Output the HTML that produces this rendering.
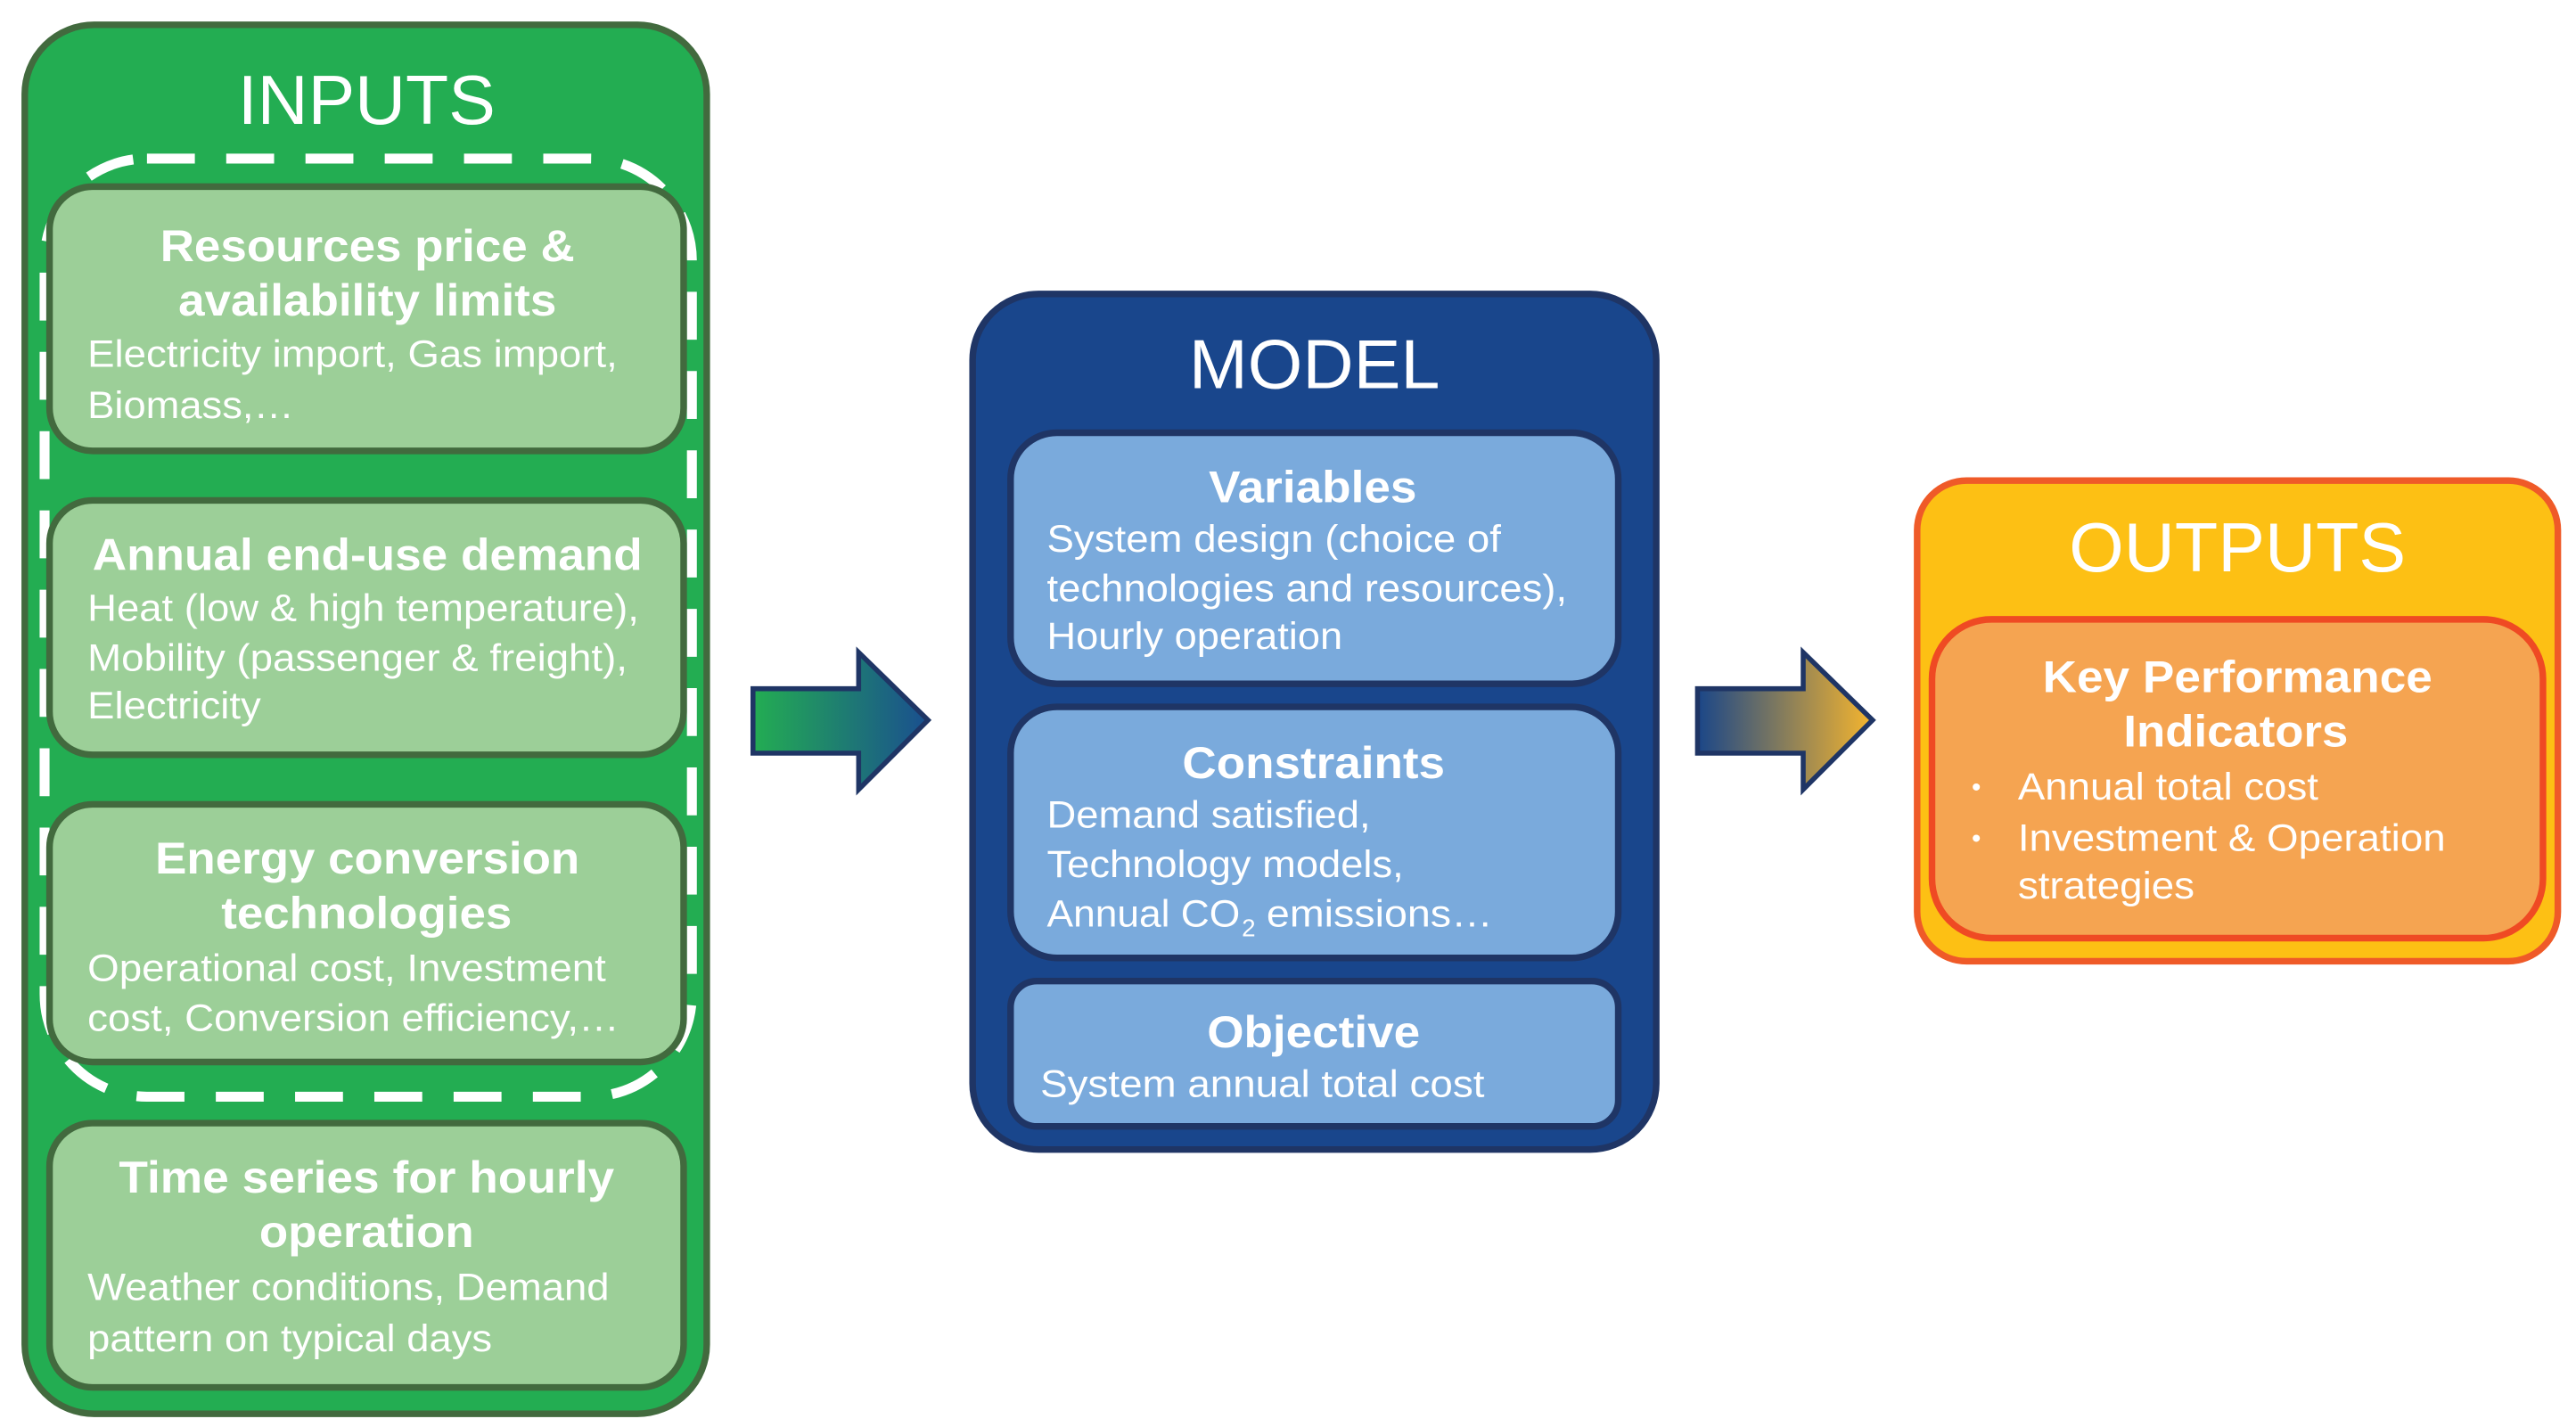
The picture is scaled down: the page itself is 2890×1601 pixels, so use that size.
<!DOCTYPE html>
<html><head><meta charset="utf-8"><style>html,body{margin:0;padding:0;background:#fff}svg{display:block}</style></head>
<body>
<svg width="2890" height="1601" viewBox="0 0 1560 864" preserveAspectRatio="none" xmlns="http://www.w3.org/2000/svg" font-family="Liberation Sans, Arial, sans-serif">
<defs>
<linearGradient id="g1" x1="0" x2="1" y1="0" y2="0"><stop offset="0" stop-color="#23ad52"/><stop offset="1" stop-color="#1a4f8f"/></linearGradient>
<linearGradient id="g2" x1="0" x2="1" y1="0" y2="0"><stop offset="0" stop-color="#1a4688"/><stop offset="1" stop-color="#f5b52e"/></linearGradient>
</defs>
<!-- INPUTS -->
<rect x="15" y="15" width="413" height="841" rx="42" fill="#23ad52" stroke="#426a3e" stroke-width="4"/>
<text x="144" y="75" font-size="42" fill="#fff" textLength="156" lengthAdjust="spacingAndGlyphs">INPUTS</text>
<rect x="27" y="96" width="392" height="568" rx="62" fill="none" stroke="#fff" stroke-width="6" stroke-dasharray="29,19"/>
<g fill="#9ccf98" stroke="#426a3e" stroke-width="4">
<rect x="30" y="113" width="384" height="160" rx="26"/>
<rect x="30" y="303" width="384" height="154" rx="26"/>
<rect x="30" y="487" width="384" height="156" rx="26"/>
<rect x="30" y="680" width="384" height="160" rx="26"/>
</g>
<g fill="#fff" lengthAdjust="spacingAndGlyphs">
<g font-size="27" font-weight="bold">
<text x="97" y="158" textLength="251" lengthAdjust="spacingAndGlyphs">Resources price &amp;</text>
<text x="108" y="191" textLength="229" lengthAdjust="spacingAndGlyphs">availability limits</text>
<text x="56" y="345" textLength="333" lengthAdjust="spacingAndGlyphs">Annual end-use demand</text>
<text x="94" y="529" textLength="257" lengthAdjust="spacingAndGlyphs">Energy conversion</text>
<text x="134" y="562" textLength="176" lengthAdjust="spacingAndGlyphs">technologies</text>
<text x="72" y="722" textLength="300" lengthAdjust="spacingAndGlyphs">Time series for hourly</text>
<text x="157" y="755" textLength="130" lengthAdjust="spacingAndGlyphs">operation</text>
</g>
<g font-size="23">
<text x="53" y="222" textLength="321" lengthAdjust="spacingAndGlyphs">Electricity import, Gas import,</text>
<text x="53" y="253" textLength="125" lengthAdjust="spacingAndGlyphs">Biomass,…</text>
<text x="53" y="376" textLength="334" lengthAdjust="spacingAndGlyphs">Heat (low &amp; high temperature),</text>
<text x="53" y="406" textLength="327" lengthAdjust="spacingAndGlyphs">Mobility (passenger &amp; freight),</text>
<text x="53" y="435" textLength="105" lengthAdjust="spacingAndGlyphs">Electricity</text>
<text x="53" y="594" textLength="314" lengthAdjust="spacingAndGlyphs">Operational cost, Investment</text>
<text x="53" y="624" textLength="322" lengthAdjust="spacingAndGlyphs">cost, Conversion efficiency,…</text>
<text x="53" y="787" textLength="316" lengthAdjust="spacingAndGlyphs">Weather conditions, Demand</text>
<text x="53" y="818" textLength="245" lengthAdjust="spacingAndGlyphs">pattern on typical days</text>
</g>
</g>
<!-- arrow 1 -->
<path d="M456,417 H520 V395 L562,436 L520,478 V456 H456 Z" fill="url(#g1)" stroke="#1f3565" stroke-width="3"/>
<!-- MODEL -->
<rect x="589" y="178" width="414" height="518" rx="40" fill="#19468c" stroke="#1f3565" stroke-width="4"/>
<text x="720" y="235" font-size="42" fill="#fff" textLength="152" lengthAdjust="spacingAndGlyphs">MODEL</text>
<g fill="#7aaadc" stroke="#1f3565" stroke-width="4">
<rect x="612" y="262" width="368" height="152" rx="28"/>
<rect x="612" y="428" width="368" height="152" rx="28"/>
<rect x="612" y="594" width="368" height="88" rx="16"/>
</g>
<g fill="#fff">
<g font-size="27" font-weight="bold">
<text x="732" y="304" textLength="126" lengthAdjust="spacingAndGlyphs">Variables</text>
<text x="716" y="471" textLength="159" lengthAdjust="spacingAndGlyphs">Constraints</text>
<text x="731" y="634" textLength="129" lengthAdjust="spacingAndGlyphs">Objective</text>
</g>
<g font-size="23">
<text x="634" y="334" textLength="275" lengthAdjust="spacingAndGlyphs">System design (choice of</text>
<text x="634" y="364" textLength="315" lengthAdjust="spacingAndGlyphs">technologies and resources),</text>
<text x="634" y="393" textLength="179" lengthAdjust="spacingAndGlyphs">Hourly operation</text>
<text x="634" y="501" textLength="196" lengthAdjust="spacingAndGlyphs">Demand satisfied,</text>
<text x="634" y="531" textLength="216" lengthAdjust="spacingAndGlyphs">Technology models,</text>
<text x="634" y="561" textLength="117" lengthAdjust="spacingAndGlyphs">Annual CO</text>
<text x="752" y="567" font-size="15">2</text>
<text x="767" y="561" textLength="137" lengthAdjust="spacingAndGlyphs">emissions…</text>
<text x="630" y="664" textLength="269" lengthAdjust="spacingAndGlyphs">System annual total cost</text>
</g>
</g>
<!-- arrow 2 -->
<path d="M1028,417 H1092 V395 L1134,436 L1092,478 V456 H1028 Z" fill="url(#g2)" stroke="#1f3565" stroke-width="3"/>
<!-- OUTPUTS -->
<rect x="1161" y="291" width="388" height="291" rx="30" fill="#fdc014" stroke="#ef5a28" stroke-width="4"/>
<text x="1253" y="346" font-size="42" fill="#fff" textLength="204" lengthAdjust="spacingAndGlyphs">OUTPUTS</text>
<rect x="1170" y="375" width="370" height="193" rx="36" fill="#f5a451" stroke="#ef4a23" stroke-width="4"/>
<g fill="#fff">
<g font-size="27" font-weight="bold">
<text x="1237" y="419" textLength="236" lengthAdjust="spacingAndGlyphs">Key Performance</text>
<text x="1286" y="452" textLength="136" lengthAdjust="spacingAndGlyphs">Indicators</text>
</g>
<g font-size="23">
<text x="1194" y="482" font-size="16">•</text>
<text x="1222" y="484" textLength="182" lengthAdjust="spacingAndGlyphs">Annual total cost</text>
<text x="1194" y="513" font-size="16">•</text>
<text x="1222" y="515" textLength="259" lengthAdjust="spacingAndGlyphs">Investment &amp; Operation</text>
<text x="1222" y="544" textLength="107" lengthAdjust="spacingAndGlyphs">strategies</text>
</g>
</g>
</svg>
</body></html>
